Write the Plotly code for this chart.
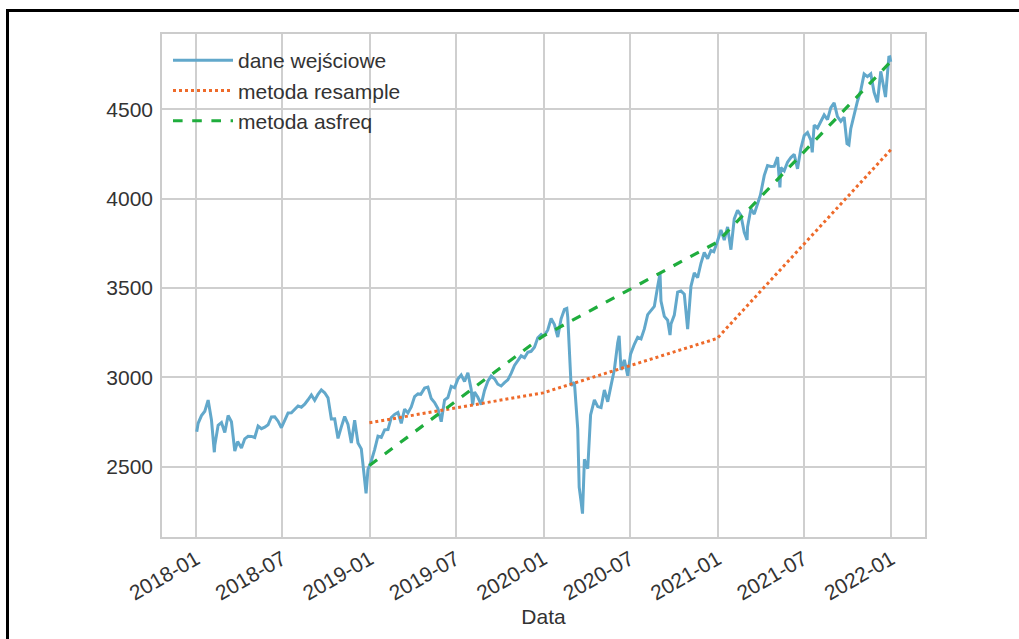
import plotly.graph_objects as go

# S&P 500 closes (approx. weekly)
dates = [
 "2018-01-02","2018-01-05","2018-01-12","2018-01-19","2018-01-26","2018-02-02","2018-02-08","2018-02-09","2018-02-16","2018-02-23",
 "2018-03-02","2018-03-09","2018-03-16","2018-03-23","2018-03-29","2018-04-06","2018-04-13","2018-04-20","2018-04-27","2018-05-04",
 "2018-05-11","2018-05-18","2018-05-25","2018-06-01","2018-06-08","2018-06-15","2018-06-22","2018-06-29","2018-07-06","2018-07-13",
 "2018-07-20","2018-07-27","2018-08-03","2018-08-10","2018-08-17","2018-08-24","2018-08-31","2018-09-07","2018-09-14","2018-09-21",
 "2018-09-28","2018-10-05","2018-10-12","2018-10-19","2018-10-26","2018-11-02","2018-11-09","2018-11-16","2018-11-23","2018-11-30",
 "2018-12-07","2018-12-14","2018-12-21","2018-12-24","2018-12-28","2018-12-31",
 "2019-01-04","2019-01-11","2019-01-18","2019-01-25","2019-02-01","2019-02-08","2019-02-15","2019-02-22","2019-03-01","2019-03-08",
 "2019-03-15","2019-03-22","2019-03-29","2019-04-05","2019-04-12","2019-04-18","2019-04-26","2019-05-03","2019-05-10","2019-05-17",
 "2019-05-24","2019-05-31","2019-06-07","2019-06-14","2019-06-21","2019-06-28","2019-07-05","2019-07-12","2019-07-19","2019-07-26",
 "2019-08-02","2019-08-05","2019-08-09","2019-08-16","2019-08-23","2019-08-30","2019-09-06","2019-09-13","2019-09-20","2019-09-27",
 "2019-10-04","2019-10-11","2019-10-18","2019-10-25","2019-11-01","2019-11-08","2019-11-15","2019-11-22","2019-11-29","2019-12-06",
 "2019-12-13","2019-12-20","2019-12-27","2019-12-31",
 "2020-01-03","2020-01-10","2020-01-17","2020-01-24","2020-01-31","2020-02-07","2020-02-14","2020-02-19","2020-02-21","2020-02-28",
 "2020-03-06","2020-03-13","2020-03-16","2020-03-20","2020-03-23","2020-03-27","2020-04-03","2020-04-09","2020-04-17","2020-04-24",
 "2020-05-01","2020-05-08","2020-05-15","2020-05-22","2020-05-29","2020-06-05","2020-06-08","2020-06-12","2020-06-19","2020-06-26",
 "2020-07-02","2020-07-10","2020-07-17","2020-07-24","2020-07-31","2020-08-07","2020-08-14","2020-08-21","2020-08-28","2020-09-02",
 "2020-09-04","2020-09-11","2020-09-18","2020-09-23","2020-09-25","2020-10-02","2020-10-09","2020-10-16","2020-10-23","2020-10-30",
 "2020-11-06","2020-11-13","2020-11-20","2020-11-27","2020-12-04","2020-12-11","2020-12-18","2020-12-24","2020-12-31",
 "2021-01-08","2021-01-15","2021-01-22","2021-01-29","2021-02-05","2021-02-12","2021-02-19","2021-02-26","2021-03-04","2021-03-05",
 "2021-03-12","2021-03-19","2021-03-26","2021-04-01","2021-04-09","2021-04-16","2021-04-23","2021-04-30","2021-05-07","2021-05-12",
 "2021-05-14","2021-05-21","2021-05-28","2021-06-04","2021-06-11","2021-06-18","2021-06-25","2021-07-02","2021-07-09","2021-07-16",
 "2021-07-19","2021-07-23","2021-07-30","2021-08-06","2021-08-13","2021-08-20","2021-08-27","2021-09-03","2021-09-10","2021-09-17",
 "2021-09-24","2021-09-30","2021-10-04","2021-10-08","2021-10-15","2021-10-22","2021-10-29","2021-11-05","2021-11-12","2021-11-19",
 "2021-11-26","2021-11-30","2021-12-03","2021-12-10","2021-12-17","2021-12-20","2021-12-27","2021-12-29","2021-12-31",
]
close = [
 2695.81,2743.15,2786.24,2810.30,2872.87,2762.13,2581.00,2619.55,2732.22,2747.30,
 2691.25,2786.57,2752.01,2588.26,2640.87,2604.47,2656.30,2670.14,2669.91,2663.42,
 2727.72,2712.97,2721.33,2734.62,2779.03,2779.42,2754.88,2718.37,2759.82,2801.31,
 2801.83,2818.82,2840.35,2833.28,2850.13,2874.69,2901.52,2871.68,2904.98,2929.67,
 2913.98,2885.57,2767.13,2767.78,2658.69,2723.06,2781.01,2736.27,2632.56,2760.17,
 2633.08,2599.95,2416.62,2351.10,2485.74,2506.85,
 2531.94,2596.26,2670.71,2664.76,2706.53,2707.88,2775.60,2792.67,2803.69,2743.07,
 2822.48,2800.71,2834.40,2892.74,2907.41,2905.03,2939.88,2945.64,2881.40,2859.53,
 2826.06,2752.06,2873.34,2886.98,2950.46,2941.76,2990.41,3013.77,2976.61,3025.86,
 2932.05,2844.74,2918.65,2888.68,2847.11,2926.46,2978.71,3007.39,2992.07,2961.79,
 2952.01,2970.27,2986.20,3022.55,3066.91,3093.08,3120.46,3110.29,3140.98,3145.91,
 3168.80,3221.22,3240.02,3230.78,
 3234.85,3265.35,3329.62,3295.47,3225.52,3327.71,3380.16,3386.15,3337.75,2954.22,
 2972.37,2711.02,2386.13,2304.92,2237.40,2541.47,2488.65,2789.82,2874.56,2836.74,
 2830.71,2929.80,2863.70,2955.45,3044.31,3193.93,3232.39,3041.31,3097.74,3009.05,
 3130.01,3185.04,3224.73,3215.63,3271.12,3351.28,3372.85,3397.16,3508.01,3580.84,
 3426.96,3340.97,3319.47,3236.92,3298.46,3348.44,3477.13,3483.81,3465.39,3269.96,
 3509.44,3585.15,3557.54,3638.35,3699.12,3663.46,3709.41,3703.06,3756.07,
 3824.68,3768.25,3841.47,3714.24,3886.83,3934.83,3906.71,3811.15,3768.47,3841.94,
 3943.34,3913.10,3974.54,4019.87,4128.80,4185.47,4180.17,4181.17,4232.60,4063.04,
 4173.85,4155.86,4204.11,4229.89,4247.44,4166.45,4280.70,4352.34,4369.55,4327.16,
 4258.49,4411.79,4395.26,4436.52,4468.00,4441.67,4509.37,4535.43,4458.58,4432.99,
 4455.48,4307.54,4300.46,4391.34,4471.37,4544.90,4605.38,4697.53,4682.85,4697.96,
 4594.62,4567.00,4538.43,4712.02,4620.64,4568.02,4791.19,4793.06,4766.18,
]

year_end = ["2018-12-31", "2019-12-31", "2020-12-31", "2021-12-31"]
resample_mean = [2746.2, 2913.4, 3217.9, 4273.4]
asfreq_vals = [2506.85, 3230.78, 3756.07, 4766.18]

tick_dates = ["2018-01-01","2018-07-01","2019-01-01","2019-07-01","2020-01-01",
              "2020-07-01","2021-01-01","2021-07-01","2022-01-01"]
tick_labels = ["2018-01","2018-07","2019-01","2019-07","2020-01",
               "2020-07","2021-01","2021-07","2022-01"]
y_ticks = [2500, 3000, 3500, 4000, 4500]

fig = go.Figure()
fig.add_trace(go.Scatter(x=dates, y=close, mode="lines", name="dane wejściowe",
                         line=dict(color="#62a8cb", width=3)))
fig.add_trace(go.Scatter(x=year_end, y=resample_mean, mode="lines", name="metoda resample",
                         line=dict(color="#ee6a2a", width=3, dash="dot")))
fig.add_trace(go.Scatter(x=year_end, y=asfreq_vals, mode="lines", name="metoda asfreq",
                         line=dict(color="#1fad3d", width=3.2, dash="dash")))

W, H = 1019, 639
ML, MR, MT, MB = 162, 94, 34, 102
plot_w = W - ML - MR
plot_h = H - MT - MB

def px_x(px):
    return (px - ML) / plot_w

def px_y(py):
    return (H - MB - py) / plot_h

font_family = "Liberation Sans, Arial, sans-serif"
fig.update_layout(
    width=W, height=H,
    margin=dict(l=ML, r=MR, t=MT, b=MB),
    paper_bgcolor="white", plot_bgcolor="white",
    font=dict(family=font_family, size=21, color="#333333"),
    showlegend=True,
    legend=dict(x=px_x(168), y=px_y(40), xanchor="left", yanchor="top",
                bgcolor="rgba(0,0,0,0)", font=dict(size=21, color="#333333"),
                tracegroupgap=0, itemwidth=60),
    xaxis=dict(range=["2017-10-21", "2022-03-13"], tickmode="array",
               tickvals=tick_dates, ticktext=tick_labels, tickangle=-30,
               showgrid=True, gridcolor="#cfcfcf", gridwidth=1.5,
               showline=True, linecolor="#cccccc", linewidth=1.5, mirror=True,
               zeroline=False, ticks="", title=dict(text="Data", font=dict(size=21), standoff=4)),
    yaxis=dict(range=[2107, 4921], tickmode="array", tickvals=y_ticks,
               showgrid=True, gridcolor="#cfcfcf", gridwidth=1.5,
               showline=True, linecolor="#cccccc", linewidth=1.5, mirror=True,
               zeroline=False, ticks="", ticklabelstandoff=3),
    shapes=[
        dict(type="line", xref="paper", yref="paper", x0=px_x(6), x1=px_x(1019), y0=px_y(10.5), y1=px_y(10.5),
             line=dict(color="black", width=3)),
        dict(type="line", xref="paper", yref="paper", x0=px_x(7.5), x1=px_x(7.5), y0=px_y(9), y1=px_y(640),
             line=dict(color="black", width=3)),
    ],
)

fig.write_html("out.html", config={"displayModeBar": False},
               post_script="document.body.style.margin='0';document.body.style.overflow='hidden';")
